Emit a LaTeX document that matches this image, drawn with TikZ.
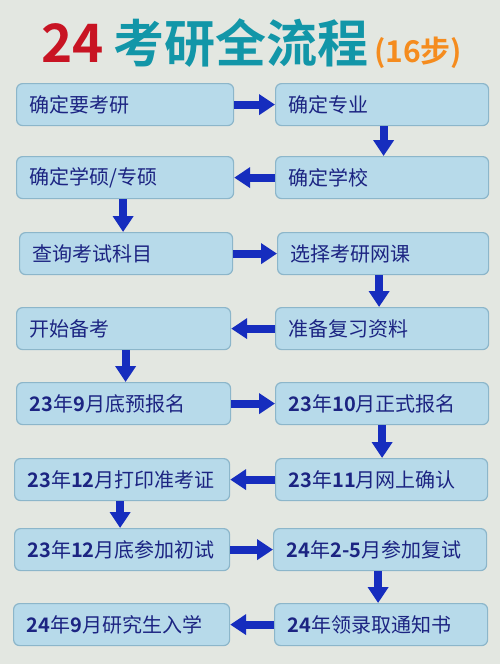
\documentclass[tikz,border=0pt]{standalone}
\usepackage{fontspec}
\setmainfont{Noto Sans CJK SC}[BoldFont={* Bold}]
\usetikzlibrary{arrows.meta}
\definecolor{bgc}{RGB}{227,231,225}
\definecolor{boxfill}{RGB}{183,218,234}
\definecolor{boxborder}{RGB}{140,182,202}
\definecolor{navy}{RGB}{28,36,130}
\definecolor{arrowblue}{RGB}{22,45,190}
\definecolor{titlered}{RGB}{200,20,35}
\definecolor{titleteal}{RGB}{18,150,168}
\definecolor{titleorange}{RGB}{245,140,30}
\newcommand{\dg}[1]{\textbf{#1}}
\tikzset{
  stepbox/.style={draw=boxborder, line width=1.2pt, fill=boxfill, rounded corners=6pt,
    anchor=north west, minimum height=42pt, inner xsep=13pt, inner ysep=0pt,
    text width=#1, align=left, font=\fontsize{20pt}{24pt}\selectfont, text=navy},
  arr/.style={draw=arrowblue, line width=8pt, -{Triangle[length=16pt,width=20pt]}},
  ttl/.style={anchor=base west, inner sep=0pt}
}
\begin{document}
\begin{tikzpicture}[x=1pt,y=-1pt]
\fill[bgc] (0,0) rectangle (500,664);
\useasboundingbox (0,0) rectangle (500,664);
% title
\node[ttl, text=titlered, font=\fontsize{53pt}{56pt}\selectfont\bfseries] (t1) at (41,62) {24};
\node[ttl, text=titleteal, font=\fontsize{51pt}{56pt}\selectfont\bfseries] (t2) at (113,62) {考研全流程};
\node[ttl, text=titleorange, font=\fontsize{30pt}{32pt}\selectfont\bfseries] (t3) at (374,62) {(16步)};
% boxes
\node[stepbox=191pt] (L1) at (16,83) {确定要考研};
\node[stepbox=187pt] (R1) at (275,83) {确定专业};
\node[stepbox=191pt] (L2) at (16,156) {确定学硕/专硕};
\node[stepbox=187pt] (R2) at (275,156) {确定学校};
\node[stepbox=187pt] (L3) at (19,232) {查询考试科目};
\node[stepbox=185pt] (R3) at (277,232) {选择考研网课};
\node[stepbox=188pt] (L4) at (16,307) {开始备考};
\node[stepbox=187pt] (R4) at (275,307) {准备复习资料};
\node[stepbox=188pt] (L5) at (16,382) {\dg{23}年\dg{9}月底预报名};
\node[stepbox=187pt] (R5) at (275,382) {\dg{23}年\dg{10}月正式报名};
\node[stepbox=189pt] (L6) at (14,458) {\dg{23}年\dg{12}月打印准考证};
\node[stepbox=186pt] (R6) at (275,458) {\dg{23}年\dg{11}月网上确认};
\node[stepbox=189pt] (L7) at (14,528) {\dg{23}年\dg{12}月底参加初试};
\node[stepbox=187pt] (R7) at (273,528) {\dg{24}年\dg{2-5}月参加复试};
\node[stepbox=190pt] (L8) at (13,603) {\dg{24}年\dg{9}月研究生入学};
\node[stepbox=187pt] (R8) at (274,603) {\dg{24}年领录取通知书};
% horizontal arrows
\draw[arr] (L1.east) -- (R1.west);
\draw[arr] (R2.west) -- (L2.east);
\draw[arr] (L3.east) -- (R3.west);
\draw[arr] (R4.west) -- (L4.east);
\draw[arr] (L5.east) -- (R5.west);
\draw[arr] (R6.west) -- (L6.east);
\draw[arr] (L7.east) -- (R7.west);
\draw[arr] (R8.west) -- (L8.east);
% vertical arrows
\draw[arr] ([xshift=1.5pt]R1.south) -- ([xshift=1.5pt]R1.south |- R2.north);
\draw[arr] ([xshift=-2pt]L2.south) -- ([xshift=-2pt]L2.south |- L3.north);
\draw[arr] ([xshift=-4pt]R3.south) -- ([xshift=-4pt]R3.south |- R4.north);
\draw[arr] ([xshift=2pt]L4.south) -- ([xshift=2pt]L4.south |- L5.north);
\draw[arr] (R5.south) -- (R5.south |- R6.north);
\draw[arr] ([xshift=-2pt]L6.south) -- ([xshift=-2pt]L6.south |- L7.north);
\draw[arr] ([xshift=-2pt]R7.south) -- ([xshift=-2pt]R7.south |- R8.north);
\end{tikzpicture}
\end{document}
